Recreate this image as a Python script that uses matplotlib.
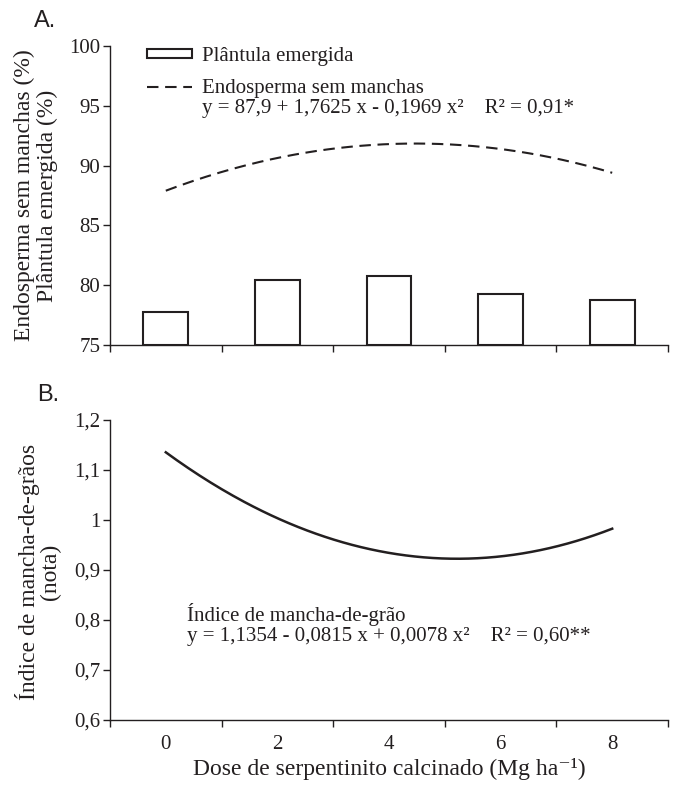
import numpy as np
import matplotlib
matplotlib.use("Agg")
import matplotlib.pyplot as plt
from matplotlib.patches import Patch
from matplotlib.lines import Line2D

plt.rcParams['font.family'] = ['Liberation Serif', 'DejaVu Serif']

# ---- data ----
doses = [0, 2, 4, 6, 8]
tick_labels = ['0', '2', '4', '6', '8']
plantula = [77.8, 80.4, 80.8, 79.3, 78.8]
# fitted regression coefficients shown on the chart (a + b x + c x^2)
endosperma_coef = [87.9, 1.7625, -0.1969]
mancha_coef = [1.1354, -0.0815, 0.0078]

TXT = '#231f20'
FS = 15          # tick labels, legend, annotations
FL = 17          # axis labels
LW = 1.5
DASH = (0, (5.5, 3.2))
W, H = 674, 789
fig = plt.figure(figsize=(W / 100, H / 100), dpi=100)

def px_axes(left, right, top, bottom):
    return fig.add_axes([left / W, 1 - bottom / H, (right - left) / W, (bottom - top) / H])

axA = px_axes(110, 668, 46, 345)
axB = px_axes(110, 668, 420, 720)

xs = np.linspace(doses[0], doses[-1], 200)

def style(ax):
    for s in ['top', 'right']:
        ax.spines[s].set_visible(False)
    for s in ['left', 'bottom']:
        ax.spines[s].set_linewidth(1.0)
        ax.spines[s].set_color(TXT)
    ax.set_xlim(-1, 9)
    ax.set_xticks(doses)
    ax.set_xticks([-1, 1, 3, 5, 7, 9], minor=True)
    ax.tick_params(axis='x', which='major', length=0, pad=11, labelsize=FS, colors=TXT)
    ax.tick_params(axis='x', which='minor', length=5, width=1.0, direction='out', color=TXT)
    ax.tick_params(axis='y', length=5, width=1.0, direction='out', pad=2, labelsize=FS, colors=TXT)

# ---- panel A ----
style(axA)
axA.bar(doses, [v - 75 for v in plantula], bottom=75, width=0.8, facecolor='white',
        edgecolor=TXT, linewidth=LW, zorder=2)
ya = endosperma_coef[0] + endosperma_coef[1] * xs + endosperma_coef[2] * xs ** 2
axA.plot(xs, ya, color=TXT, linestyle=DASH, linewidth=LW)
axA.set_ylim(75, 100)
axA.set_yticks([75, 80, 85, 90, 95, 100])
axA.set_xticklabels([])
handles = [Patch(facecolor='white', edgecolor=TXT, linewidth=LW),
           Line2D([0], [0], color=TXT, linestyle=DASH, linewidth=LW)]
leg = axA.legend(handles, ['Plântula emergida', 'Endosperma sem manchas'], loc='upper left',
                 bbox_to_anchor=(147 / W, 1 - 47 / H), bbox_transform=fig.transFigure,
                 frameon=False, fontsize=FS, handlelength=2.15, handleheight=0.3,
                 handletextpad=0.5, labelspacing=0.62, borderpad=0, borderaxespad=0,
                 labelcolor=TXT)
fig.text(202 / W, 1 - 109 / H, 'y = 87,9 + 1,7625 x - 0,1969 x²    R² = 0,91*',
         fontsize=FS, color=TXT, va='center', ha='left')
fig.text(34 / W, 1 - 21 / H, 'A.', fontsize=17, family=['Liberation Sans', 'DejaVu Sans'],
         color=TXT, ha='left', va='center')
fig.text(36 / W, 1 - 195.5 / H, 'Endosperma sem manchas (%)\nPlântula emergida (%)',
         rotation=90, ha='center', va='center', fontsize=FL, color=TXT, linespacing=1.1,
         multialignment='center')

# ---- panel B ----
style(axB)
yb = mancha_coef[0] + mancha_coef[1] * xs + mancha_coef[2] * xs ** 2
axB.plot(xs, yb, color=TXT, linewidth=LW + 0.3)
axB.set_ylim(0.6, 1.2)
axB.set_yticks([0.6, 0.7, 0.8, 0.9, 1.0, 1.1, 1.2])
axB.set_yticklabels(['0,6', '0,7', '0,8', '0,9', '1', '1,1', '1,2'])
axB.set_xticklabels(tick_labels)
axB.set_xlabel('Dose de serpentinito calcinado (Mg ha⁻¹)', fontsize=FL,
               color=TXT, labelpad=3)
fig.text(187 / W, 1 - 615 / H, 'Índice de mancha-de-grão', fontsize=FS, color=TXT,
         ha='left', va='center')
fig.text(187 / W, 1 - 637 / H, 'y = 1,1354 - 0,0815 x + 0,0078 x²    R² = 0,60**',
         fontsize=FS, color=TXT, ha='left', va='center')
fig.text(37 / W, 1 - 395 / H, 'B.', fontsize=17, family=['Liberation Sans', 'DejaVu Sans'],
         color=TXT, ha='left', va='center')
fig.text(38 / W, 1 - 572 / H, 'Índice de mancha-de-grãos\n(nota)',
         rotation=90, ha='center', va='center', fontsize=FL, color=TXT, linespacing=1.05,
         multialignment='center')

fig.savefig('out.png', dpi=100)
